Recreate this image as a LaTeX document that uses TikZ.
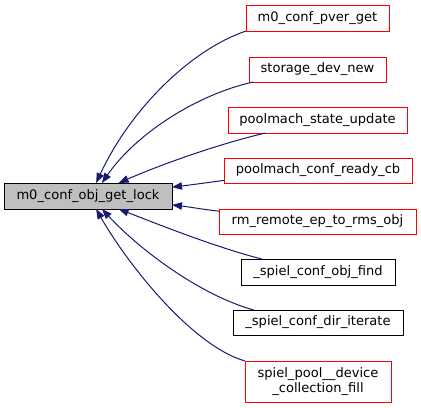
\documentclass[tikz,border=0pt]{standalone}
\usepackage{fontspec}
\setmainfont{DejaVu Sans}
\usetikzlibrary{arrows.meta}
\definecolor{edgeblue}{RGB}{25,25,112}

\begin{document}
\begin{tikzpicture}[x=0.75pt,y=-0.75pt,
    fn/.style={draw=red,line width=0.75pt,inner sep=0pt,outer sep=0pt,align=center,
      font=\fontsize{9.8}{11.2}\selectfont},
    fndoc/.style={fn,draw=black},
    edge/.style={draw=edgeblue,line width=0.75pt,-{Triangle[length=7.5pt,width=5.6pt]}}]
        \useasboundingbox (0,0) rectangle (421,407);

        \node[fndoc,fill=black!25,minimum width=126pt,minimum height=19.5pt] (main) at (88,196) {m0\_conf\_obj\_get\_lock};

        \node[fn,minimum width=107.25pt,minimum height=19.5pt] (pver) at (317.5,18) {m0\_conf\_pver\_get};
        \node[fn,minimum width=102.75pt,minimum height=18.75pt] (devnew) at (317.5,69.5) {storage\_dev\_new};
        \node[fn,minimum width=134.25pt,minimum height=19.5pt] (stupd) at (317.5,120) {poolmach\_state\_update};
        \node[fn,minimum width=141pt,minimum height=18.75pt] (readycb) at (318,170.5) {poolmach\_conf\_ready\_cb};
        \node[fn,minimum width=147.75pt,minimum height=18.75pt] (rmsobj) at (317.5,221.5) {rm\_remote\_ep\_to\_rms\_obj};
        \node[fndoc,minimum width=115.5pt,minimum height=19.5pt] (objfind) at (318,272) {\_spiel\_conf\_obj\_find};
        \node[fndoc,minimum width=127.5pt,minimum height=18.75pt] (diriter) at (318,322.5) {\_spiel\_conf\_dir\_iterate};
        \node[fn,minimum width=109.5pt,minimum height=30.75pt] (collfill) at (318,381.5) {spiel\_pool\_\_device\\\_collection\_fill};

        \draw[edge] (pver.south west) .. controls (190,50) and (130,110) .. (main.58);
        \draw[edge] (devnew.-169) .. controls (195,95) and (135,135) .. (main.43);
        \draw[edge] (stupd.-166) .. controls (215,145) and (160,165) .. (main.23);
        \draw[edge] (readycb.-174) .. controls (205,183) and (190,185) .. (main.6);
        \draw[edge] (rmsobj.174) .. controls (200,209) and (190,207) .. (main.-6);
        \draw[edge] (objfind.167) .. controls (215,247) and (160,225) .. (main.-23);
        \draw[edge] (diriter.169) .. controls (200,295) and (140,250) .. (main.-43);
        \draw[edge] (collfill.north west) .. controls (190,345) and (125,260) .. (main.-58);
    \end{tikzpicture}
\end{document}
